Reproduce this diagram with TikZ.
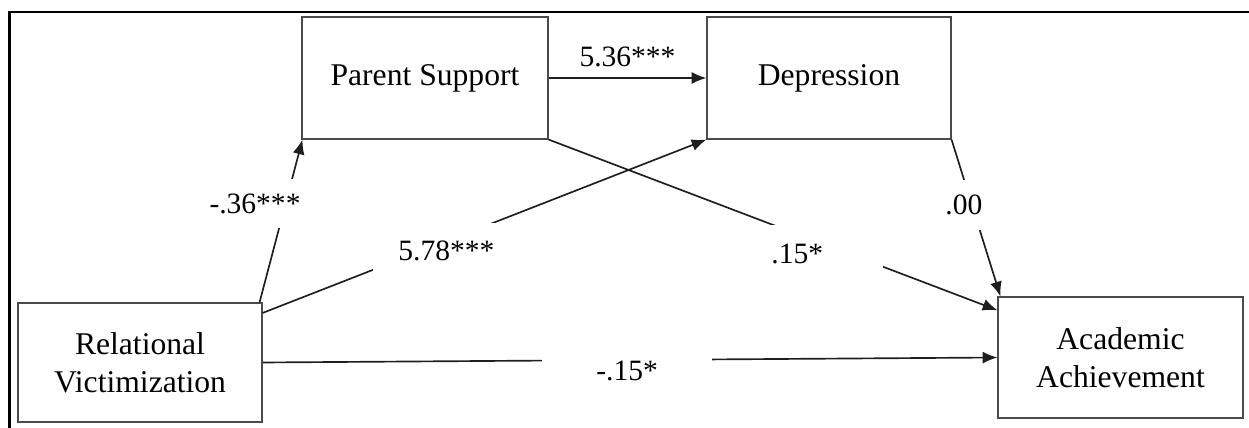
\documentclass[tikz,border=0pt]{standalone}
\usepackage{fontspec}
\setmainfont{Liberation Serif}
\usetikzlibrary{arrows.meta}
\definecolor{seminki}{HTML}{1E1E1E}
\definecolor{semedge}{HTML}{4A4A4A}
\tikzset{
  sem box/.style={
    draw=semedge,
    line width=0.65pt,
    fill=white,
    align=center,
    inner sep=0pt,
    font=\fontsize{18}{21.5}\selectfont,
  },
  sem path/.style={-{Latex[length=8.4pt,width=6.8pt]}, line width=0.95pt, draw=seminki},
  sem coef/.style={
    fill=white,
    text=black,
    font=\fontsize{16.8}{20}\selectfont,
  },
}

\begin{document}
\begin{tikzpicture}[x=0.02cm, y=-0.02cm]
  \useasboundingbox (0,0) rectangle (1249,428);

  % --- figure frame (top and left edge only) ---
  \draw[line width=1.2pt] (1249,12) -- (9.5,12) -- (9.5,428);

  % --- variables ---
  \node[sem box, minimum width=4.92cm, minimum height=2.44cm]
    (ps) at (425,78) {Parent Support};
  \node[sem box, minimum width=4.88cm, minimum height=2.44cm]
    (dep) at (829,78) {Depression};
  \node[sem box, minimum width=4.88cm, minimum height=2.38cm]
    (rv) at (140,362.5) {Relational\\Victimization};
  \node[sem box, minimum width=4.90cm, minimum height=2.42cm]
    (aa) at (1120.5,357.5) {Academic\\Achievement};

  % --- paths with coefficients ---
  \draw[sem path] ([xshift=-0.06cm]rv.north east) --
    node[sem coef, pos=0.605, xshift=-0.61cm, inner xsep=0.05cm, inner ysep=0.29cm] {-.36***}
    ([xshift=0.02cm]ps.south west);
  \draw[sem path] (rv.22) --
    node[sem coef, pos=0.414, yshift=-0.2cm, inner xsep=0.5cm, inner ysep=0.36cm] {5.78***}
    (dep.south west);
  \draw[sem path] (ps.east) --
    node[sem coef, above, inner sep=0.2cm] {5.36***}
    (dep.west);
  \draw[sem path] (ps.south east) --
    node[sem coef, pos=0.554, yshift=-0.39cm, inner xsep=1.2cm, inner ysep=0.38cm] {.15*}
    (aa.159);
  \draw[sem path] (dep.south east) --
    node[sem coef, pos=0.416, xshift=-0.16cm, inner xsep=0.05cm, inner ysep=0.3cm] {.00}
    ([xshift=0.06cm]aa.north west);
  \draw[sem path] (rv.east) --
    node[sem coef, pos=0.496, yshift=-0.22cm, inner xsep=1.08cm, inner ysep=0.12cm] {-.15*}
    (aa.west);

\end{tikzpicture}
\end{document}
